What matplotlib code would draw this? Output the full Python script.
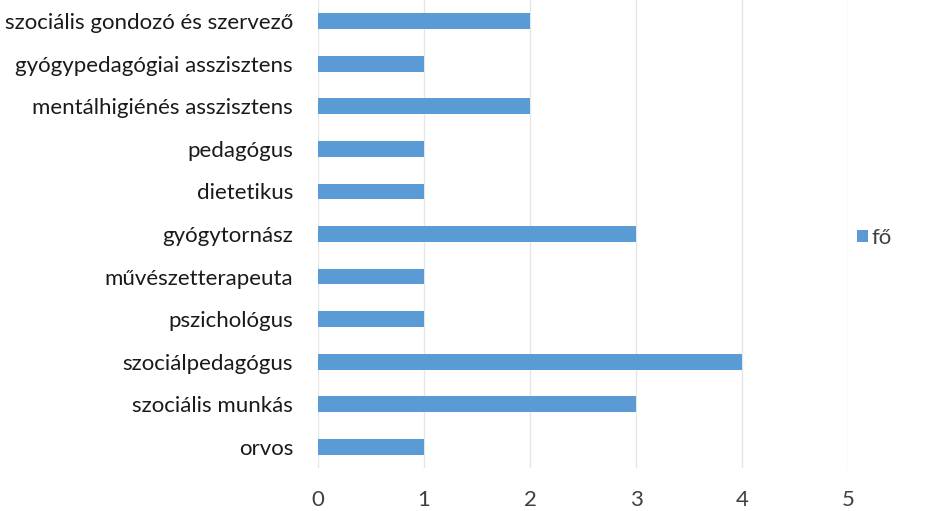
import matplotlib
matplotlib.use("Agg")
import matplotlib.pyplot as plt

categories = ["orvos", "szociális munkás", "szociálpedagógus", "pszichológus",
              "művészetterapeuta", "gyógytornász", "dietetikus", "pedagógus",
              "mentálhigiénés asszisztens", "gyógypedagógiai asszisztens",
              "szociális gondozó és szervező"]
values = [1, 3, 4, 1, 1, 3, 1, 1, 2, 1, 2]
xticks = [0, 1, 2, 3, 4, 5]
series_name = "fő"

plt.rcParams['font.family'] = ['Lato', 'DejaVu Sans']

fig = plt.figure(figsize=(9.41, 5.11), dpi=100)
ax = fig.add_axes([318/941, 1-468/511, (848-318)/941, 468/511])
ypos = list(range(len(categories)))
ax.barh(ypos, values, height=0.37, color="#5B9BD5", label=series_name, zorder=3)
ax.set_xlim(0, 5)
ax.set_ylim(-0.5, len(categories)-0.5)
ax.set_yticks(ypos)
ax.set_yticklabels(categories, fontsize=16, color="#1a1a1a")
ax.set_xticks(xticks)
ax.set_xticklabels([str(t) for t in xticks], fontsize=16, color="#404040")
ax.tick_params(axis='both', length=0)
ax.tick_params(axis='y', pad=18)
ax.tick_params(axis='x', pad=16)
ax.grid(axis='x', color="#E6E6E6", linewidth=1, zorder=0)
for s in ax.spines.values():
    s.set_visible(False)
fig.legend(loc='center left', bbox_to_anchor=(837/941, 1-238/511), frameon=False,
           fontsize=16, handlelength=0.5, handleheight=0.5, handletextpad=0.15,
           labelcolor="#404040")
fig.savefig("out.png", dpi=100)
